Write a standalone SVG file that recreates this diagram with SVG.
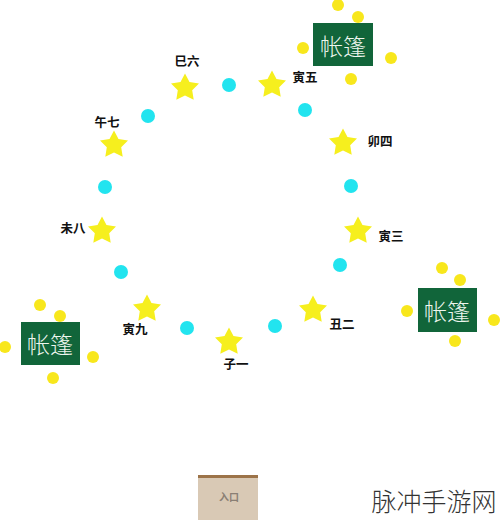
<svg xmlns="http://www.w3.org/2000/svg" xmlns:xlink="http://www.w3.org/1999/xlink" width="500" height="520" viewBox="0 0 500 520">
<defs>
<style>
.star{fill:#f6ef1e}
.cy{fill:#22e4ef}
.yd{fill:#f8e71c}
.tent{fill:#11653a}
.tt{fill:#eef6ee;font-family:"Noto Sans CJK SC",sans-serif;font-size:23px;font-weight:300;text-anchor:middle;dominant-baseline:central}
.lb{fill:#111;font-family:"Liberation Serif","Noto Sans CJK SC",serif;font-size:12.5px;font-weight:bold;text-anchor:middle;dominant-baseline:central}
</style>
<polygon id="st" points="0,-14.5 4.5,-6 14,-4.6 7.2,2.2 8.7,11.8 0,7.4 -8.7,11.8 -7.2,2.2 -14,-4.6 -4.5,-6"/>
</defs>
<rect width="500" height="520" fill="#fff"/>
<g id="connectors"/>
<g id="ring">
<use xlink:href="#st" class="star" x="185" y="88"/>
<use xlink:href="#st" class="star" x="272" y="85"/>
<use xlink:href="#st" class="star" x="114" y="145"/>
<use xlink:href="#st" class="star" x="102" y="231"/>
<use xlink:href="#st" class="star" x="343" y="143"/>
<use xlink:href="#st" class="star" x="358" y="231"/>
<use xlink:href="#st" class="star" x="147" y="309"/>
<use xlink:href="#st" class="star" x="229" y="342"/>
<use xlink:href="#st" class="star" x="313" y="310"/>
<circle class="cy" cx="229" cy="85" r="7"/>
<circle class="cy" cx="305" cy="110" r="7"/>
<circle class="cy" cx="148" cy="116" r="7"/>
<circle class="cy" cx="105" cy="187" r="7"/>
<circle class="cy" cx="351" cy="186" r="7"/>
<circle class="cy" cx="340" cy="265" r="7"/>
<circle class="cy" cx="121" cy="272" r="7"/>
<circle class="cy" cx="187" cy="328" r="7"/>
<circle class="cy" cx="275" cy="326" r="7"/>
<text class="lb" x="187" y="62">巳六</text>
<text class="lb" x="305" y="78">寅五</text>
<text class="lb" x="107" y="123">午七</text>
<text class="lb" x="73" y="229">未八</text>
<text class="lb" x="380" y="142">卯四</text>
<text class="lb" x="391" y="237">寅三</text>
<text class="lb" x="135" y="330">寅九</text>
<text class="lb" x="236" y="365">子一</text>
<text class="lb" x="342" y="325">丑二</text>
</g>
<g id="tent-top">
<rect class="tent" x="313" y="23" width="60" height="43"/>
<text class="tt" x="343" y="45">帐篷</text>
<circle class="yd" cx="338" cy="5" r="6"/>
<circle class="yd" cx="358" cy="17" r="6"/>
<circle class="yd" cx="303" cy="48" r="6"/>
<circle class="yd" cx="391" cy="58" r="6"/>
<circle class="yd" cx="351" cy="79" r="6"/>
</g>
<g id="tent-left">
<rect class="tent" x="21" y="322" width="59" height="43"/>
<text class="tt" x="50" y="343">帐篷</text>
<circle class="yd" cx="40" cy="305" r="6"/>
<circle class="yd" cx="60" cy="316" r="6"/>
<circle class="yd" cx="5" cy="347" r="6"/>
<circle class="yd" cx="93" cy="357" r="6"/>
<circle class="yd" cx="53" cy="378" r="6"/>
</g>
<g id="tent-right">
<rect class="tent" x="418" y="288" width="59" height="44"/>
<text class="tt" x="447" y="310">帐篷</text>
<circle class="yd" cx="442" cy="268" r="6"/>
<circle class="yd" cx="460" cy="280" r="6"/>
<circle class="yd" cx="407" cy="311" r="6"/>
<circle class="yd" cx="494" cy="320" r="6"/>
<circle class="yd" cx="455" cy="341" r="6"/>
</g>
<g id="entrance">
<rect x="198" y="475" width="60" height="45" fill="#d9c9b5"/>
<rect x="198" y="475" width="60" height="3" fill="#9c7349"/>
<text x="229" y="496" fill="#8a7f74" font-family="Noto Sans CJK SC,sans-serif" font-size="10" font-weight="bold" text-anchor="middle" dominant-baseline="central">入口</text>
</g>
<text x="434" y="500" fill="#333" font-family="Noto Sans CJK SC,sans-serif" font-size="25" font-weight="300" text-anchor="middle" dominant-baseline="central">脉冲手游网</text>
</svg>
